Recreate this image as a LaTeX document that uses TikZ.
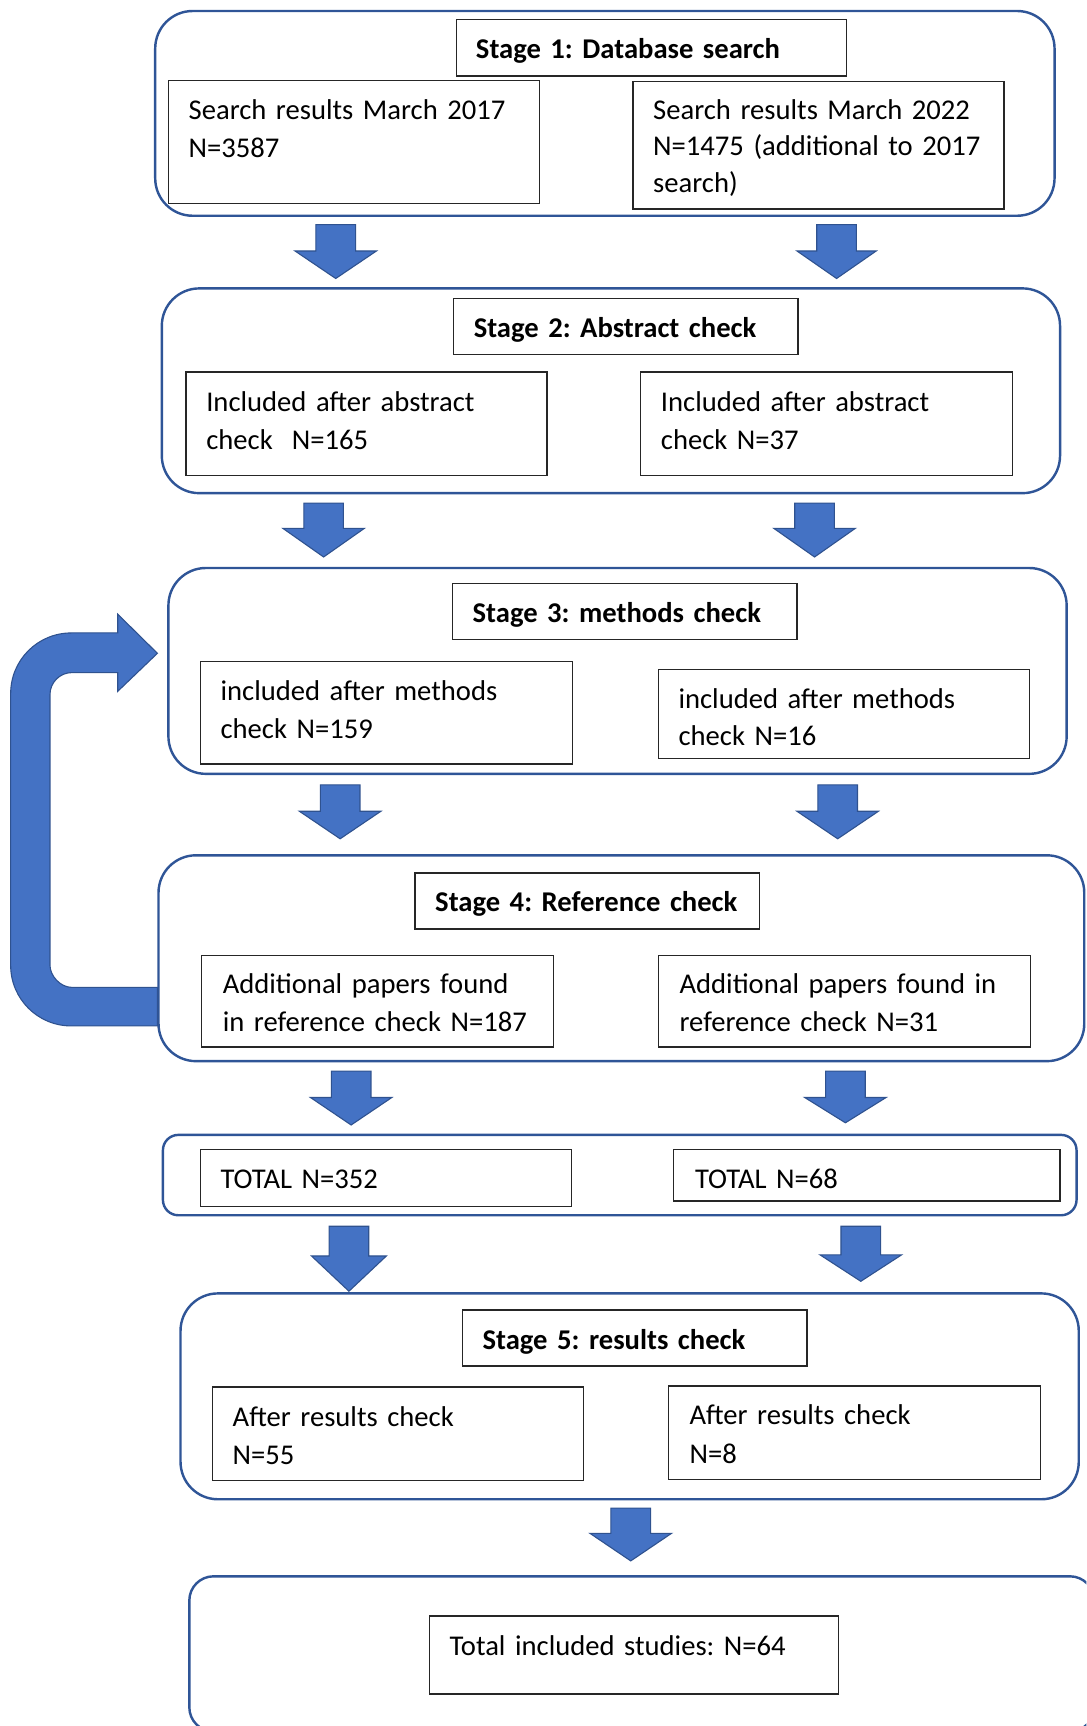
\documentclass[tikz,border=0pt]{standalone}
\usepackage{fontspec}
\setmainfont{Carlito}
\frenchspacing
\usetikzlibrary{fit}
\definecolor{bord}{HTML}{2F5597}
\definecolor{afill}{HTML}{4472C4}
\definecolor{aline}{HTML}{2F528F}
\newcommand\mkbox[6]{\coordinate (#2-a) at (#3,#4); \coordinate (#2-b) at (#5,#6); \node[#1, fit=(#2-a)(#2-b)] (#2) {};}
\newcommand\darrow[6]{\filldraw[blockarrow] (#1-#5,#2) -- (#1+#5,#2) -- (#1+#5,#3) -- (#1+#6,#3) -- (#1,#4) -- (#1-#6,#3) -- (#1-#5,#3) -- cycle;}
\begin{document}
\begin{tikzpicture}[x=0.5pt,y=-0.5pt,
  stagebox/.style={draw=bord, line width=1.1pt, rounded corners=17pt, inner sep=0pt},
  ibox/.style={draw=black!85, line width=0.6pt, inner sep=0pt},
  blockarrow/.style={fill=afill, draw=aline, line width=0.5pt},
  txt/.style={inner sep=0pt, anchor=base west, text width=250pt, align=left, font=\fontsize{13pt}{17.5pt}\selectfont},
  ttl/.style={txt, font=\fontsize{13pt}{17.5pt}\selectfont\bfseries}]
\useasboundingbox (0,0) rectangle (987,1568);
\clip (0,0) rectangle (987,1568);
% loop arrow
\filldraw[blockarrow] (143,932) -- (64.7,932) .. controls (34.3,932) and (9.7,907.4) .. (9.7,877)
  -- (9.7,630) .. controls (9.7,599.6) and (34.3,575) .. (64.7,575)
  -- (107,575) -- (107,558) -- (143,593.5) -- (107,628) -- (107,611)
  -- (65.4,611) .. controls (54.4,611) and (45.4,620) .. (45.4,631)
  -- (45.4,877) .. controls (45.4,886) and (54.4,897) .. (65.4,897)
  -- (143,897) -- cycle;
% stage boxes
\mkbox{stagebox}{s1}{141}{10}{958}{196}
\mkbox{stagebox}{s2}{147}{262}{963}{448}
\mkbox{stagebox}{s3}{153}{516}{969}{703}
\mkbox{stagebox}{s4}{144}{777}{985}{964}
\mkbox{stagebox, rounded corners=7pt}{tot}{148}{1031}{978}{1104}
\mkbox{stagebox}{s5}{164}{1175}{980}{1362}
\mkbox{stagebox, rounded corners=11pt}{fin}{172}{1432}{994}{1573}
% inner boxes
\mkbox{ibox}{t1}{415}{18}{769}{69}
\mkbox{ibox}{a1}{153}{73}{490}{185}
\mkbox{ibox}{b1}{575}{74}{912}{190}
\mkbox{ibox}{t2}{412}{271}{725}{322}
\mkbox{ibox}{a2}{169}{338}{497}{432}
\mkbox{ibox}{b2}{582}{338}{920}{432}
\mkbox{ibox}{t3}{411}{530}{724}{581}
\mkbox{ibox}{a3}{182}{601}{520}{694}
\mkbox{ibox}{b3}{598}{608}{935}{689}
\mkbox{ibox}{t4}{377}{793}{690}{844}
\mkbox{ibox}{a4}{183}{868}{503}{951}
\mkbox{ibox}{b4}{598}{868}{936}{951}
\mkbox{ibox}{ta}{182}{1044}{519}{1096}
\mkbox{ibox}{tb}{612}{1044}{963}{1091}
\mkbox{ibox}{t5}{420}{1190}{733}{1241}
\mkbox{ibox}{a5}{193}{1260}{530}{1345}
\mkbox{ibox}{b5}{607}{1259}{945}{1344}
\mkbox{ibox}{f}{390}{1468}{762}{1539}
% texts
\node[ttl] (t1x) at (432,53.5) {Stage 1: Database search};
\node[txt] (a1x) at (171,108.5) {Search results March 2017\\N=3587};
\node[txt, font=\fontsize{13pt}{16.5pt}\selectfont] (b1x) at (593,108.5) {Search results March 2022\\N=1475 (additional to 2017\\search)};
\node[ttl] (t2x) at (430,306.5) {Stage 2: Abstract check};
\node[txt] (a2x) at (187,373.5) {Included after abstract\\check\ \ N=165};
\node[txt] (b2x) at (600,373.5) {Included after abstract\\check N=37};
\node[ttl] (t3x) at (429,565.5) {Stage 3: methods check};
\node[txt, font=\fontsize{13pt}{17pt}\selectfont] (a3x) at (200,636.5) {included after methods\\check N=159};
\node[txt, font=\fontsize{13pt}{17pt}\selectfont] (b3x) at (616,643.5) {included after methods\\check N=16};
\node[ttl] (t4x) at (395,828.5) {Stage 4: Reference check};
\node[txt] (a4x) at (202,902.5) {Additional papers found\\in reference check N=187};
\node[txt] (b4x) at (617,902.5) {Additional papers found in\\reference check N=31};
\node[txt] (tax) at (200,1079.5) {TOTAL N=352};
\node[txt] (tbx) at (631,1079.5) {TOTAL N=68};
\node[ttl] (t5x) at (438,1225.5) {Stage 5: results check};
\node[txt] (a5x) at (211,1295.5) {After results check\\N=55};
\node[txt] (b5x) at (626,1294.5) {After results check\\N=8};
\node[txt] (fx) at (408,1503.5) {Total included studies: N=64};
% block arrows
\darrow{305}{204}{228}{253}{18}{37}
\darrow{760}{204}{228}{253}{18}{36}
\darrow{294}{457}{480}{506}{18}{37}
\darrow{740}{457}{480}{506}{18}{37}
\darrow{309}{713}{737}{762}{18}{37}
\darrow{761}{713}{737}{762}{18}{37}
\darrow{319}{973}{997}{1022}{18}{37}
\darrow{768}{973}{997}{1020}{18}{37}
\darrow{317}{1114}{1141}{1173}{18}{34}
\darrow{782}{1114}{1140}{1164}{18}{37}
\darrow{573}{1370}{1393}{1418}{18}{37}
\end{tikzpicture}
\end{document}
